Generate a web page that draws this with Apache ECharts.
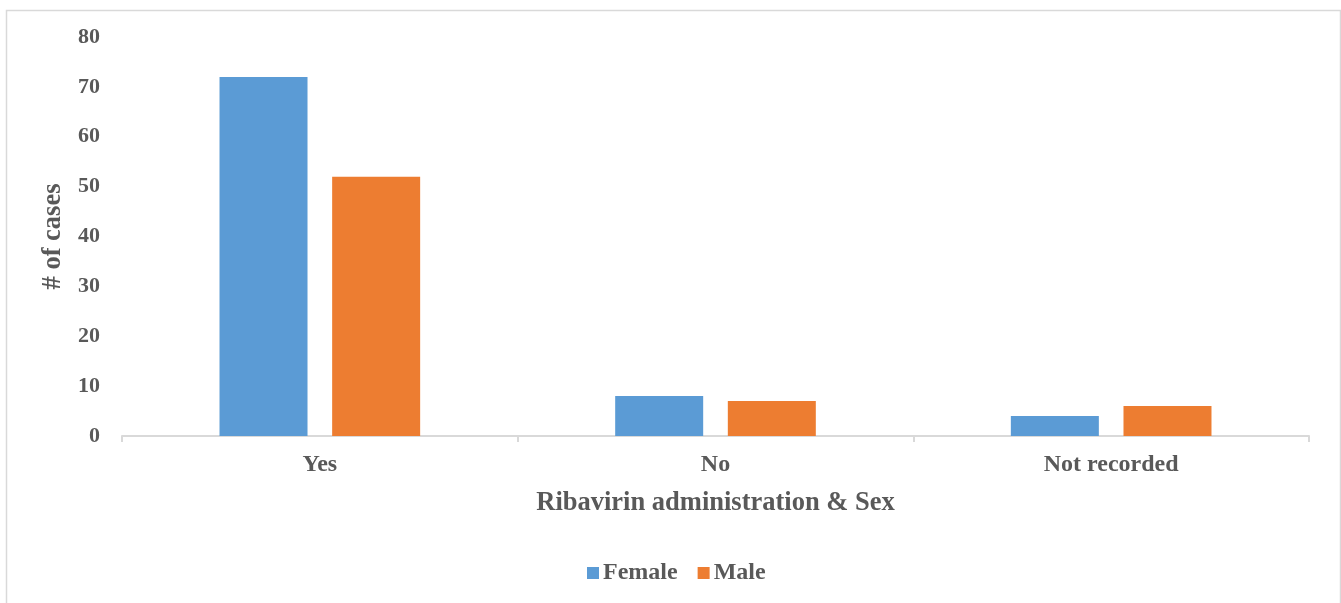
<!DOCTYPE html>
<html>
<head>
<meta charset="utf-8">
<script src="https://cdn.jsdelivr.net/npm/echarts@6/dist/echarts.min.js"></script>
<style>
html,body{margin:0;padding:0;background:#fff;}
#c{width:1341px;height:603px;}
</style>
</head>
<body>
<div id="c"></div>
<script>
const categories = ['Yes', 'No', 'Not recorded'];
const female = [72, 8, 4];
const male = [52, 7, 6];
const yTicks = [0, 10, 20, 30, 40, 50, 60, 70, 80];

const FONT = '"Liberation Serif", "Times New Roman", serif';
const TXT = '#595959';
const chart = echarts.init(document.getElementById('c'), null, {renderer: 'canvas'});
chart.setOption({
  animation: false,
  backgroundColor: '#fff',
  graphic: [{
    type: 'rect', left: 4, top: 8, shape: {width: 1334, height: 610},
    style: {fill: 'none', stroke: '#d9d9d9', lineWidth: 1.5}, silent: true, z: -1
  }],
  grid: {left: 122, right: 32, top: 37, bottom: 167, containLabel: false},
  legend: {
    data: ['Female', 'Male'],
    bottom: 13, left: 582,
    itemWidth: 12, itemHeight: 12, itemGap: 20,
    icon: 'rect',
    textStyle: {fontFamily: FONT, fontWeight: 'bold', fontSize: 24, color: TXT, padding: [0, 0, 0, -1]}
  },
  xAxis: {
    type: 'category', data: categories,
    name: 'Ribavirin administration & Sex', nameLocation: 'middle', nameGap: 54,
    nameTextStyle: {fontFamily: FONT, fontWeight: 'bold', fontSize: 26.5, color: TXT},
    axisLine: {lineStyle: {color: '#d9d9d9', width: 2}},
    axisTick: {show: true, length: 6, lineStyle: {color: '#d9d9d9', width: 2}},
    axisLabel: {fontFamily: FONT, fontWeight: 'bold', fontSize: 24, color: TXT, margin: 17}
  },
  yAxis: {
    type: 'value', min: yTicks[0], max: yTicks[yTicks.length - 1], interval: 10,
    name: '# of cases', nameLocation: 'middle', nameGap: 50,
    nameTextStyle: {fontFamily: FONT, fontWeight: 'bold', fontSize: 26.5, color: TXT},
    axisLine: {show: false}, axisTick: {show: false},
    splitLine: {show: false},
    axisLabel: {fontFamily: FONT, fontWeight: 'bold', fontSize: 22, color: TXT, margin: 22}
  },
  series: [
    {name: 'Female', type: 'bar', data: female, barWidth: 88, barGap: '28%',
     itemStyle: {color: '#5B9BD5'}},
    {name: 'Male', type: 'bar', data: male, barWidth: 88, barGap: '28%',
     itemStyle: {color: '#ED7D31'}}
  ]
});
</script>
</body>
</html>
